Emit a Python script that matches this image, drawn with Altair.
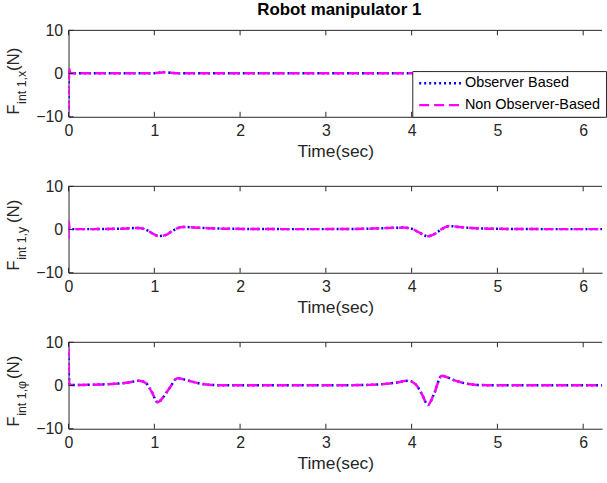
import altair as alt
import pandas as pd

SERIES = ["Observer Based", "Non Observer-Based"]
COLORS = ["#0000FF", "#FF00FF"]
DASHES = [[2, 3], [10, 5]]

# Panel 1: F_int 1,x
t_x = [0.0, 0.006, 0.012, 0.03, 0.3, 0.8, 1.0, 1.12, 1.25, 1.5, 2.0, 3.0, 4.0, 4.12, 4.25, 4.4, 5.0, 6.0, 6.3]
obs_x = [-8.0, 0.8, 0.4, 0.1, 0.05, 0.05, 0.1, 0.3, 0.1, 0.05, 0.05, 0.05, 0.05, 0.3, 0.15, 0.05, 0.05, 0.05, 0.05]
non_x = [-12.0, 1.5, 0.6, 0.1, 0.05, 0.05, 0.1, 0.3, 0.1, 0.05, 0.05, 0.05, 0.05, 0.3, 0.15, 0.05, 0.05, 0.05, 0.05]

# Panel 2: F_int 1,y
t_y = [0.0, 0.004, 0.01, 0.03, 0.3, 0.6, 0.8, 0.9, 0.97, 1.05, 1.13, 1.22, 1.33, 1.45, 1.6, 1.8, 2.5, 3.0, 3.5,
       3.9, 4.0, 4.08, 4.19, 4.28, 4.35, 4.44, 4.55, 4.7, 4.9, 5.5, 6.3]
obs_y = [0.0, 0.3, 0.2, 0.1, 0.1, 0.2, 0.35, 0.0, -0.8, -1.5, -1.3, -0.2, 0.6, 0.5, 0.35, 0.2, 0.1, 0.1, 0.2,
         0.45, 0.2, -0.6, -1.55, -0.9, 0.1, 0.8, 0.6, 0.35, 0.2, 0.1, 0.1]
non_y = [-2.2, 1.8, 0.3, 0.1, 0.1, 0.2, 0.35, 0.0, -0.8, -1.5, -1.3, -0.2, 0.6, 0.5, 0.35, 0.2, 0.1, 0.1, 0.2,
         0.45, 0.2, -0.6, -1.55, -0.9, 0.1, 0.8, 0.6, 0.35, 0.2, 0.1, 0.1]

# Panel 3: F_int 1,phi
t_p = [0.0, 0.004, 0.01, 0.03, 0.3, 0.5, 0.7, 0.82, 0.9, 0.97, 1.04, 1.1, 1.18, 1.27, 1.4, 1.55, 1.7, 2.0, 3.0,
       3.5, 3.8, 3.96, 4.05, 4.12, 4.19, 4.26, 4.35, 4.5, 4.65, 4.8, 5.2, 6.3]
obs_p = [7.5, 2.0, 0.3, 0.1, 0.2, 0.35, 0.7, 1.1, 0.6, -1.5, -3.9, -2.8, -0.5, 1.7, 1.1, 0.4, 0.1, 0.05, 0.05,
         0.15, 0.6, 1.1, 0.2, -2.0, -4.5, -2.0, 2.25, 1.2, 0.4, 0.1, 0.05, 0.05]
non_p = [12.0, 3.0, 0.3, 0.1, 0.2, 0.35, 0.7, 1.1, 0.6, -1.5, -3.9, -2.8, -0.5, 1.7, 1.1, 0.4, 0.1, 0.05, 0.05,
         0.15, 0.6, 1.1, 0.2, -2.0, -4.5, -2.0, 2.25, 1.2, 0.4, 0.1, 0.05, 0.05]

x_ticks = [0, 1, 2, 3, 4, 5, 6]
y_ticks = [-10, 0, 10]
x_domain = [0, 6.22]
y_domain = [-10, 10]

W, H = 537, 87
FONT = "Liberation Sans"
INK = "#262626"


def panel(t, obs, non, sub, gap, show_legend, title=None):
    df = pd.DataFrame({
        "t": list(t) + list(t),
        "v": list(obs) + list(non),
        "series": [SERIES[0]] * len(t) + [SERIES[1]] * len(t),
    })
    xs = alt.Scale(domain=x_domain, nice=False, zero=False)
    ys = alt.Scale(domain=y_domain, nice=False, zero=False)
    if show_legend:
        legend = alt.Legend(orient="none", legendX=346, legendY=41, fillColor="white",
                            strokeColor=INK, padding=5, labelFontSize=14.5, labelFont=FONT,
                            labelColor="black", symbolType="M-1,0H7", symbolSize=110.25,
                            symbolStrokeWidth=2.5, rowPadding=7, labelOffset=33.5, title=None)
    else:
        legend = None
    xaxis = alt.Axis(values=x_ticks, format="d", labelFontSize=16, labelFont=FONT, labelColor=INK,
                     labelPadding=6, title="Time(sec)", titleFont=FONT, titleFontSize=17.5,
                     titleFontWeight="normal", titleColor=INK, titlePadding=4, ticks=False,
                     grid=False, domainColor=INK, labelFlush=False)
    yaxis = alt.Axis(values=y_ticks, labelFontSize=16, labelFont=FONT, labelColor=INK,
                     labelPadding=6, title=None, ticks=False, grid=False, domainColor=INK,
                     labelFlush=False)
    color = alt.Color("series:N", scale=alt.Scale(domain=SERIES, range=COLORS), legend=legend)
    dash = alt.StrokeDash("series:N", scale=alt.Scale(domain=SERIES, range=DASHES), legend=legend)
    base = alt.Chart(df)
    layers = []
    for s in SERIES:
        layers.append(
            base.transform_filter(alt.datum.series == s)
            .mark_line(strokeWidth=2.5, clip=True, interpolate="monotone")
            .encode(x=alt.X("t:Q", scale=xs, axis=xaxis),
                    y=alt.Y("v:Q", scale=ys, axis=yaxis),
                    color=color, strokeDash=dash)
        )
    xt = pd.DataFrame({"t": x_ticks})
    yt = pd.DataFrame({"v": y_ticks})
    one = pd.DataFrame({"a": [0]})
    layers.append(alt.Chart(xt).mark_rule(color=INK, strokeWidth=1).encode(
        x=alt.X("t:Q", scale=xs, axis=xaxis), y=alt.value(H), y2=alt.value(H - 5)))
    layers.append(alt.Chart(xt).mark_rule(color=INK, strokeWidth=1).encode(
        x=alt.X("t:Q", scale=xs, axis=xaxis), y=alt.value(0), y2=alt.value(5)))
    layers.append(alt.Chart(yt).mark_rule(color=INK, strokeWidth=1).encode(
        y=alt.Y("v:Q", scale=ys, axis=yaxis), x=alt.value(0), x2=alt.value(5)))
    layers.append(alt.Chart(one).mark_rule(color=INK, strokeWidth=1).encode(
        x=alt.value(0), x2=alt.value(W), y=alt.value(0)))
    # y title with subscript
    fx = -50
    y0 = H - 2
    layers.append(alt.Chart(one).mark_text(angle=270, align="left", baseline="alphabetic",
                                           fontSize=17, font=FONT, color=INK).encode(
        x=alt.value(fx), y=alt.value(y0), text=alt.value("F")))
    sub_w = 33
    layers.append(alt.Chart(one).mark_text(angle=270, align="left", baseline="alphabetic",
                                           fontSize=12.5, font=FONT, color=INK).encode(
        x=alt.value(fx + 7), y=alt.value(y0 - 11), text=alt.value(sub)))
    layers.append(alt.Chart(one).mark_text(angle=270, align="left", baseline="alphabetic",
                                           fontSize=17, font=FONT, color=INK).encode(
        x=alt.value(fx), y=alt.value(y0 - 11 - sub_w - gap), text=alt.value("(N)")))
    ch = alt.layer(*layers).properties(width=W, height=H)
    if title:
        ch = ch.properties(title=alt.TitleParams(title, fontSize=17, fontWeight="bold", font=FONT,
                                                 color="black", anchor="middle", frame="group",
                                                 offset=3, dx=4))
    return ch


p1 = panel(t_x, obs_x, non_x, "int 1,x", 0, True, "Robot manipulator 1")
p2 = panel(t_y, obs_y, non_y, "int 1,y", 4, False)
p3 = panel(t_p, obs_p, non_p, "int 1,\u03c6", 4, False)

chart = alt.vconcat(p1, p2, p3, spacing=18).properties(
    padding={"left": 5, "top": 0, "right": 0, "bottom": 0}
).configure_view(stroke=None)

chart.save("out.html", embed_options={"renderer": "svg", "actions": False})
